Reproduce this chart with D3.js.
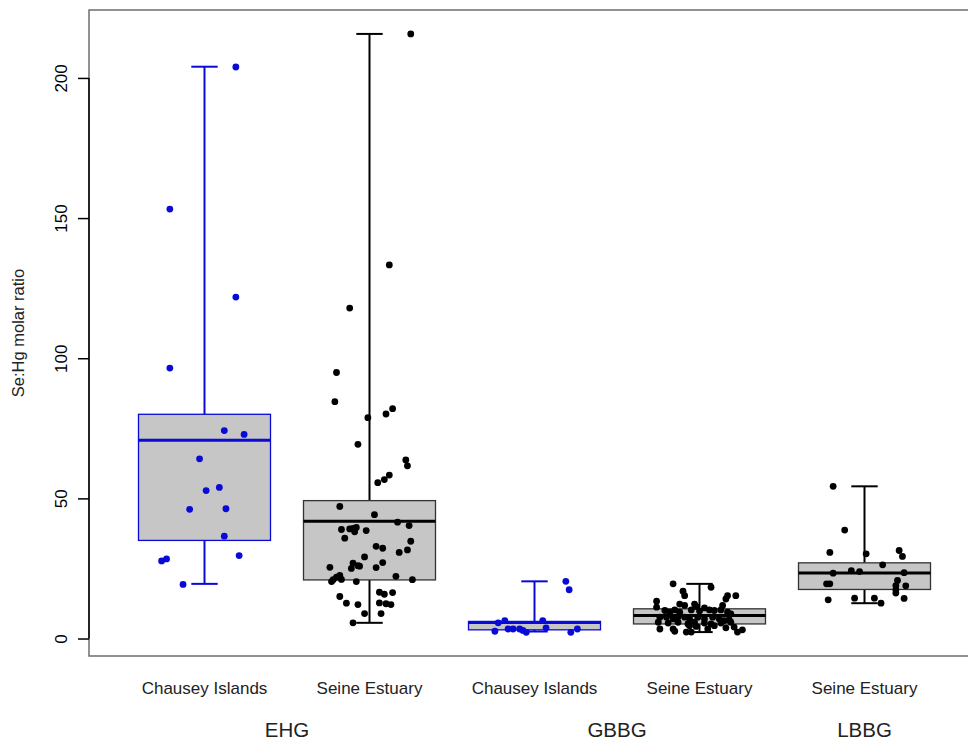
<!DOCTYPE html>
<html>
<head>
<meta charset="utf-8">
<script src="https://cdn.jsdelivr.net/npm/d3@7"></script>
<style>
  body { margin: 0; background: #fff; }
  svg { display: block; font-family: "Liberation Sans", Arial, sans-serif; }
</style>
</head>
<body>
<div id="chart"></div>
<script>
// one entry per box
const groups = ["EHG", "EHG", "GBBG", "GBBG", "LBBG"]
const sites = ["Chausey Islands", "Seine Estuary", "Chausey Islands", "Seine Estuary", "Seine Estuary"]
const boxMin = [19.5, 5.6, 2.5, 2.3, 12.6]
const boxQ1 = [35.0, 20.9, 3.1, 5.2, 17.5]
const boxMed = [70.7, 41.8, 5.7, 8.2, 23.4]
const boxQ3 = [80.0, 49.2, 6.1, 10.6, 27.0]
const boxMax = [204.0, 215.7, 20.4, 19.5, 54.3]
const yTicks = [0, 50, 100, 150, 200]

// individual samples (value + horizontal jitter in box units)
const ehgChauseyVal = [203.9, 153.2, 121.8, 96.5, 74.2, 72.8, 64.1, 52.8, 53.9, 46.1, 46.3, 36.5, 27.7, 28.4, 29.6, 19.3]
const ehgChauseyJit = [0.19, -0.21, 0.19, -0.21, 0.12, 0.24, -0.03, 0.01, 0.09, -0.09, 0.13, 0.12, -0.26, -0.23, 0.21, -0.13]

const ehgSeineVal = [215.7, 133.3, 117.9, 94.9, 84.5, 78.8, 80.1, 82.0, 69.3, 63.7, 61.6, 55.6, 56.7, 58.3,
  47.1, 44.2, 41.5, 40.3, 38.9, 39.1, 39.3, 39.6, 38.1, 38.5, 35.8, 34.7, 32.9, 32.2, 31.6, 30.7, 29.1,
  26.9, 26.0, 25.8, 25.0, 25.3, 27.1, 25.4, 22.2, 22.5, 21.9, 21.0, 20.3, 21.1, 20.3, 21.0, 16.5, 15.8,
  16.4, 15.0, 12.6, 12.1, 12.7, 12.4, 12.1, 8.9, 8.9, 5.6]
const ehgSeineJit = [0.25, 0.12, -0.12, -0.20, -0.21, -0.01, 0.10, 0.14, -0.07, 0.22, 0.23, 0.05, 0.09, 0.12,
  -0.18, 0.03, 0.17, 0.24, -0.17, -0.12, -0.10, -0.08, -0.09, -0.02, -0.15, 0.25, 0.04, 0.08, 0.23, 0.18, -0.03,
  -0.10, -0.07, -0.06, -0.11, 0.04, 0.08, -0.24, 0.16, -0.18, -0.20, -0.22, -0.23, -0.17, -0.08, 0.26, 0.06, 0.09,
  0.14, -0.18, -0.14, -0.07, 0.06, 0.10, 0.13, -0.03, 0.07, -0.10]

const gbbgChauseyVal = [20.4, 17.4, 6.4, 5.6, 6.4, 3.8, 2.6, 3.4, 3.4, 3.4, 2.9, 2.2, 2.2, 3.4]
const gbbgChauseyJit = [0.19, 0.21, -0.18, -0.22, 0.05, 0.07, -0.24, -0.16, -0.13, -0.09, -0.07, -0.05, 0.22, 0.26]

const gbbgSeineVal = [19.5, 16.9, 15.3, 18.3, 15.3, 15.3, 14.1, 11.8, 13.3, 11.2, 12.3, 11.8, 12.3, 11.4, 10.9,
  10.0, 9.4, 10.2, 9.4, 10.2, 9.8, 10.2, 10.0, 10.2, 9.4, 8.8, 7.6, 7.6, 7.0, 7.8, 7.6, 7.0, 7.6, 7.0, 7.6,
  7.0, 6.4, 6.7, 5.8, 5.5, 5.8, 5.2, 5.8, 5.5, 5.2, 5.5, 5.8, 3.4, 3.4, 2.6, 4.6, 4.3, 3.4, 4.6, 3.8, 4.1,
  2.3, 2.3, 2.3, 3.1]
const gbbgSeineJit = [-0.16, -0.10, -0.09, 0.07, 0.17, 0.22, 0.16, 0.14, -0.26, -0.26, -0.12, -0.09, -0.03, -0.02, 0.03,
  -0.21, -0.18, -0.15, -0.12, -0.05, 0.00, 0.06, 0.09, 0.13, 0.17, 0.19, -0.24, -0.20, -0.16, -0.13, -0.09, -0.06, -0.01, 0.03, 0.08,
  0.12, 0.15, 0.18, -0.25, -0.19, -0.13, -0.07, -0.03, 0.03, 0.07, 0.13, 0.19, -0.24, -0.16, -0.15, -0.06, -0.02, 0.05, 0.09, 0.16, 0.21,
  -0.08, -0.05, 0.23, 0.26]

const lbbgSeineVal = [54.3, 38.7, 30.7, 30.2, 31.4, 29.3, 26.3, 23.3, 24.2, 23.9, 23.5, 19.5, 19.5, 20.7, 18.9,
  18.8, 17.4, 16.2, 13.8, 14.4, 14.4, 12.6, 14.3]
const lbbgSeineJit = [-0.19, -0.12, -0.21, 0.01, 0.21, 0.23, 0.11, -0.19, -0.08, -0.03, 0.24, -0.23, -0.21, 0.20, 0.19,
  0.25, 0.19, 0.19, -0.22, -0.06, 0.06, 0.10, 0.24]

const pointVals = [ehgChauseyVal, ehgSeineVal, gbbgChauseyVal, gbbgSeineVal, lbbgSeineVal]
const pointJits = [ehgChauseyJit, ehgSeineJit, gbbgChauseyJit, gbbgSeineJit, lbbgSeineJit]

const width = 968
const height = 740
const plotTop = 10
const plotBottom = 656
const plotLeft = 89
const blue = '#0a0ad6'
const siteColor = s => s == 'Chausey Islands' ? blue : '#000'

const boxes = groups.map((g, i) => ({
  pos: i + 1, group: g, site: sites[i],
  min: boxMin[i], q1: boxQ1[i], med: boxMed[i], q3: boxQ3[i], max: boxMax[i]
}))

// R style axis extension: 4% on each side
const lo = d3.min(boxMin), hi = d3.max(boxMax)
const pad = (hi - lo) * 0.04
const y = d3.scaleLinear().domain([lo - pad, hi + pad]).range([plotBottom, plotTop])
const x = d3.scaleLinear().domain([0.3, boxes.length + 0.7]).range([plotLeft, plotLeft + 165 * 5.4])
const boxW = x(1.4) - x(1)
const capW = x(1.08) - x(1)

const svg = d3.select('#chart').append('svg')
  .attr('width', width)
  .attr('height', height)

// plot frame
svg.append('rect')
  .attr('x', x(0.3)).attr('y', y(hi + pad))
  .attr('width', x(boxes.length + 0.7) - x(0.3))
  .attr('height', y(lo - pad) - y(hi + pad))
  .attr('fill', 'none')
  .attr('stroke', '#6e6e6e')
  .attr('stroke-width', 1.5)

// boxes
const b = svg.append('g').selectAll('g')
  .data(boxes)
  .enter()
  .append('g')

b.append('line')
  .attr('x1', d => x(d.pos)).attr('x2', d => x(d.pos))
  .attr('y1', d => y(d.q3)).attr('y2', d => y(d.max))
b.append('line')
  .attr('x1', d => x(d.pos)).attr('x2', d => x(d.pos))
  .attr('y1', d => y(d.q1)).attr('y2', d => y(d.min))
b.append('line')
  .attr('x1', d => x(d.pos) - capW).attr('x2', d => x(d.pos) + capW)
  .attr('y1', d => y(d.max)).attr('y2', d => y(d.max))
b.append('line')
  .attr('x1', d => x(d.pos) - capW).attr('x2', d => x(d.pos) + capW)
  .attr('y1', d => y(d.min)).attr('y2', d => y(d.min))
b.selectAll('line')
  .attr('stroke', d => siteColor(d.site))
  .attr('stroke-width', 2)

b.append('rect')
  .attr('x', d => x(d.pos) - boxW)
  .attr('y', d => y(d.q3))
  .attr('width', boxW * 2)
  .attr('height', d => y(d.q1) - y(d.q3))
  .attr('fill', '#c6c6c6')
  .attr('stroke', d => d.site == 'Chausey Islands' ? blue : '#333')
  .attr('stroke-width', 1.3)

b.append('line')
  .attr('x1', d => x(d.pos) - boxW).attr('x2', d => x(d.pos) + boxW)
  .attr('y1', d => y(d.med)).attr('y2', d => y(d.med))
  .attr('stroke', d => siteColor(d.site))
  .attr('stroke-width', 3)

// jittered samples
const pts = boxes.flatMap((d, i) => pointVals[i].map((v, j) => ({
  pos: d.pos + pointJits[i][j], value: v, site: d.site
})))

svg.append('g').selectAll('circle')
  .data(pts)
  .enter()
  .append('circle')
  .attr('cx', d => x(d.pos))
  .attr('cy', d => y(d.value))
  .attr('r', 3.4)
  .attr('fill', d => siteColor(d.site))

// y axis
const axisY = d3.axisLeft(y)
  .tickValues(yTicks)
  .tickSize(11)
  .tickFormat(d3.format('d'))

const gy = svg.append('g')
  .attr('transform', `translate(${plotLeft}, 0)`)
  .call(axisY)
gy.select('.domain').remove()
gy.selectAll('line').attr('stroke', '#000').attr('stroke-width', 1.5)
gy.selectAll('text')
  .attr('transform', 'rotate(-90)')
  .attr('x', 0)
  .attr('y', -22)
  .attr('dy', 0)
  .attr('text-anchor', 'middle')
  .attr('fill', '#000')
  .style('font-size', '17px')
  .style('font-family', '"Liberation Sans", Arial, sans-serif')
gy.append('line')
  .attr('x1', 0).attr('x2', 0)
  .attr('y1', y(yTicks[0])).attr('y2', y(yTicks[yTicks.length - 1]))
  .attr('stroke', '#000')
  .attr('stroke-width', 1.5)

svg.append('text')
  .attr('transform', `translate(24, ${(plotTop + plotBottom) / 2}) rotate(-90)`)
  .attr('text-anchor', 'middle')
  .attr('fill', '#222')
  .style('font-size', '16.5px')
  .text('Se:Hg molar ratio')

// site labels
svg.append('g').selectAll('text')
  .data(boxes)
  .enter()
  .append('text')
  .attr('x', d => x(d.pos))
  .attr('y', 694)
  .attr('text-anchor', 'middle')
  .attr('fill', '#222')
  .style('font-size', '17px')
  .text(d => d.site)

// species labels, centred under their boxes
const groupNames = Array.from(new Set(groups))
svg.append('g').selectAll('text')
  .data(groupNames)
  .enter()
  .append('text')
  .attr('x', g => x(d3.mean(boxes.filter(d => d.group == g), d => d.pos)))
  .attr('y', 737)
  .attr('text-anchor', 'middle')
  .attr('fill', '#222')
  .style('font-size', '20.5px')
  .text(g => g)
</script>
</body>
</html>
